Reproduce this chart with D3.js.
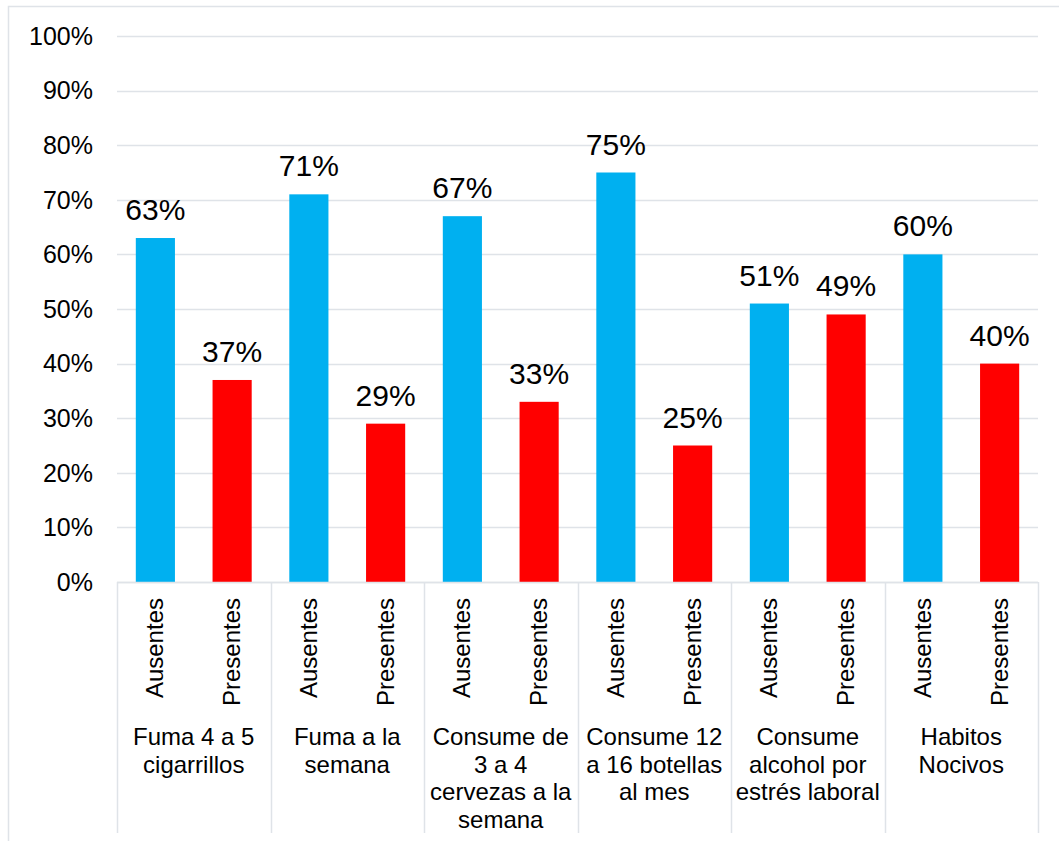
<!DOCTYPE html>
<html>
<head>
<meta charset="utf-8">
<script src="https://cdn.jsdelivr.net/npm/d3@7"></script>
<style>
  html, body { margin: 0; padding: 0; background: #fff; }
  svg { display: block; font-family: "Liberation Sans", Arial, sans-serif; }
</style>
</head>
<body>
<svg id="chart" width="1059" height="841"></svg>
<script>
// Habits grouped by category, each split into "Ausentes" / "Presentes"
const categories = [
  ["Fuma 4 a 5", "cigarrillos"],
  ["Fuma a la", "semana"],
  ["Consume de", "3 a 4", "cervezas a la", "semana"],
  ["Consume 12", "a 16 botellas", "al mes"],
  ["Consume", "alcohol por", "estrés laboral"],
  ["Habitos", "Nocivos"]
];
const subgroups = ["Ausentes", "Presentes"];
const ausentes  = [63, 71, 67, 75, 51, 60];
const presentes = [37, 29, 33, 25, 49, 40];
const yTicks = [0, 10, 20, 30, 40, 50, 60, 70, 80, 90, 100];

const colors = { Ausentes: "#00B0F0", Presentes: "#FF0000" };
const gridColor = "#dfe3e8";

const svg = d3.select("#chart");
const plot = { left: 117, right: 1038, top: 36, bottom: 582 };

// outer chart frame (left and top edges visible)
svg.append("rect")
  .attr("x", 8.5).attr("y", 6.5)
  .attr("width", 1200).attr("height", 1000)
  .attr("fill", "none").attr("stroke", gridColor).attr("stroke-width", 1.5);

const x0 = d3.scaleBand()
  .domain(d3.range(categories.length))
  .range([plot.left, plot.right])
  .paddingInner(0).paddingOuter(0);

const x1 = d3.scaleBand()
  .domain(subgroups)
  .range([0, x0.bandwidth()])
  .paddingInner(0.49).paddingOuter(0.245);

const y = d3.scaleLinear().domain([0, 100]).range([plot.bottom, plot.top]);

// horizontal gridlines
svg.append("g")
  .selectAll("line")
  .data(yTicks)
  .join("line")
  .attr("x1", plot.left).attr("x2", plot.right)
  .attr("y1", d => Math.round(y(d)) + 0.5).attr("y2", d => Math.round(y(d)) + 0.5)
  .attr("stroke", gridColor).attr("stroke-width", 1.5);

// y tick labels
svg.append("g")
  .selectAll("text")
  .data(yTicks)
  .join("text")
  .attr("x", 93)
  .attr("y", d => y(d))
  .attr("dy", "0.35em")
  .attr("text-anchor", "end")
  .attr("font-size", 25)
  .attr("fill", "#000")
  .text(d => d + "%");

// category divider lines below the axis
svg.append("g")
  .selectAll("line")
  .data(d3.range(categories.length + 1))
  .join("line")
  .attr("x1", i => Math.round(plot.left + i * x0.bandwidth()) + 0.5)
  .attr("x2", i => Math.round(plot.left + i * x0.bandwidth()) + 0.5)
  .attr("y1", plot.bottom).attr("y2", 833)
  .attr("stroke", gridColor).attr("stroke-width", 1.5);

// bars
const rows = categories.map((c, i) => [
  { i, key: "Ausentes", v: ausentes[i] },
  { i, key: "Presentes", v: presentes[i] }
]).flat();

svg.append("g")
  .selectAll("rect")
  .data(rows)
  .join("rect")
  .attr("x", d => x0(d.i) + x1(d.key))
  .attr("width", x1.bandwidth())
  .attr("y", d => y(d.v))
  .attr("height", d => y(0) - y(d.v))
  .attr("fill", d => colors[d.key]);

// value labels
svg.append("g")
  .selectAll("text")
  .data(rows)
  .join("text")
  .attr("x", d => x0(d.i) + x1(d.key) + x1.bandwidth() / 2)
  .attr("y", d => y(d.v) - 18)
  .attr("text-anchor", "middle")
  .attr("font-size", 30)
  .attr("fill", "#000")
  .text(d => d.v + "%");

// axis baseline
svg.append("line")
  .attr("x1", plot.left).attr("x2", plot.right)
  .attr("y1", plot.bottom + 0.5).attr("y2", plot.bottom + 0.5)
  .attr("stroke", gridColor).attr("stroke-width", 1.5);

// rotated subgroup labels
svg.append("g")
  .selectAll("text")
  .data(rows)
  .join("text")
  .attr("transform", d => `translate(${x0(d.i) + x1(d.key) + x1.bandwidth() / 2 + 8},598) rotate(-90)`)
  .attr("text-anchor", "end")
  .attr("font-size", 24)
  .attr("fill", "#000")
  .text(d => d.key);

// category labels (multi-line)
const catG = svg.append("g")
  .selectAll("text")
  .data(categories)
  .join("text")
  .attr("text-anchor", "middle")
  .attr("font-size", 24)
  .attr("fill", "#000");

catG.selectAll("tspan")
  .data((d, i) => d.map(line => ({ line, i })))
  .join("tspan")
  .attr("x", d => x0(d.i) + x0.bandwidth() / 2)
  .attr("y", (d, j) => 745 + j * 27.7)
  .text(d => d.line);
</script>
</body>
</html>
